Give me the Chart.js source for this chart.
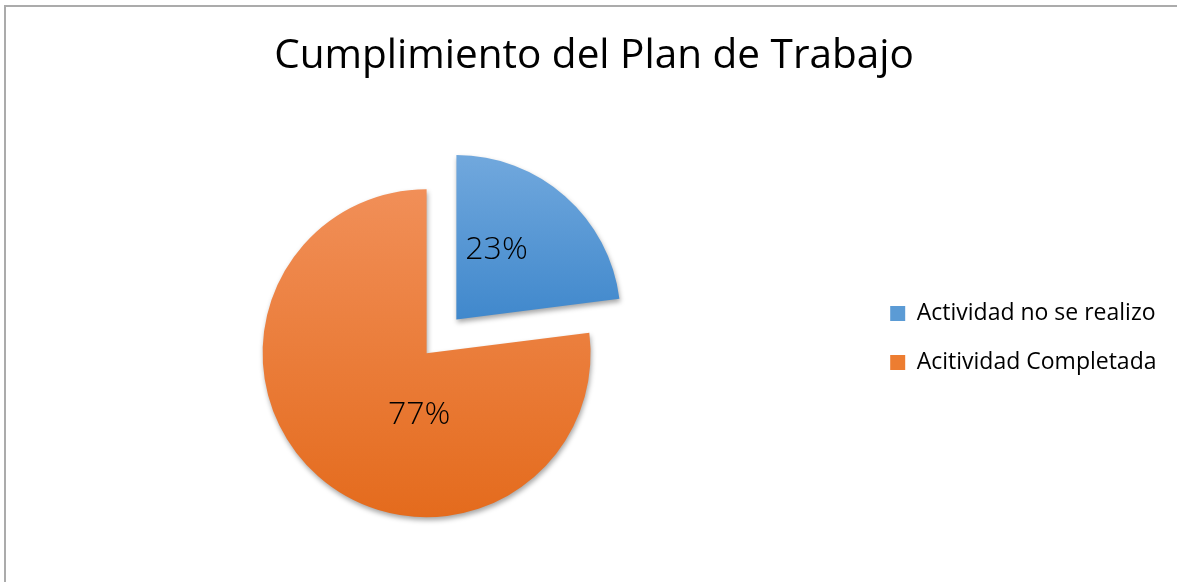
<!DOCTYPE html>
<html lang="es">
<head>
<meta charset="utf-8">
<title>Cumplimiento del Plan de Trabajo</title>
<script src="https://cdn.jsdelivr.net/npm/chart.js@4.4.0/dist/chart.umd.min.js"></script>
<style>
  html, body { margin: 0; padding: 0; background: #fff; overflow: hidden; }
  body { width: 1177px; height: 582px; position: relative; }
  .marco {
    position: absolute; left: 4px; top: 5px; width: 1300px; height: 700px;
    border-left: 2px solid #ababab; border-top: 2px solid #ababab;
  }
  /* el lienzo pasa del borde inferior a propósito: así la leyenda queda más arriba que el centro del pastel */
  .lienzo { position: absolute; left: -11px; top: 0; width: 1210px; height: 635px; }
</style>
</head>
<body>
<div class="marco"></div>
<div class="lienzo"><canvas id="planChart"></canvas></div>
<script>
// ===================== datos del gráfico =====================
const etiquetas = ['Actividad no se realizo', 'Acitividad Completada'];
const valores = [23, 77];
const tituloTexto = 'Cumplimiento del Plan de Trabajo';

// colores degradados (arriba -> abajo) de cada porción
const coloresArriba = ['#71a8dd', '#f18f58'];
const coloresAbajo = ['#4088cc', '#e46b1d'];
const coloresLeyenda = ['#5b9bd5', '#ed7d31'];
// porción separada (solo la azul)
const separacion = [180, 0];

const FUENTE = '"Open Sans", Lato, "DejaVu Sans", sans-serif';

/**
 * Degradado vertical por porción, según su caja (como Excel)
 */
const degradadoPorciones = {
  id: 'degradadoPorciones',
  beforeDatasetsDraw(chart) {
    const ctx = chart.ctx;
    const meta = chart.getDatasetMeta(0);
    meta.data.forEach((arc, i) => {
      const { x, y, startAngle, endAngle, outerRadius } = arc.getProps(['x', 'y', 'startAngle', 'endAngle', 'outerRadius'], true);
      let arriba = y, abajo = y;
      for (let k = 0; k <= 60; k++) {
        const a = startAngle + (endAngle - startAngle) * k / 60;
        const py = y + Math.sin(a) * outerRadius;
        arriba = Math.min(arriba, py);
        abajo = Math.max(abajo, py);
      }
      if (!isFinite(arriba) || !isFinite(abajo)) return;
      const g = ctx.createLinearGradient(0, arriba, 0, abajo);
      g.addColorStop(0, coloresArriba[i]);
      g.addColorStop(1, coloresAbajo[i]);
      arc.options.backgroundColor = g;
    });
  }
};

/**
 * Sombra suave bajo las porciones
 */
const sombraPorciones = {
  id: 'sombraPorciones',
  beforeDatasetsDraw(chart) {
    const ctx = chart.ctx;
    ctx.save();
    ctx.shadowColor = 'rgba(0, 0, 0, 0.35)';
    ctx.shadowBlur = 5;
    ctx.shadowOffsetX = 1;
    ctx.shadowOffsetY = 3;
  },
  afterDatasetsDraw(chart) {
    chart.ctx.restore();
  }
};

/**
 * Etiquetas de porcentaje dentro de cada porción
 */
const etiquetasPorcentaje = {
  id: 'etiquetasPorcentaje',
  afterDatasetsDraw(chart, args, opts) {
    const ctx = chart.ctx;
    const meta = chart.getDatasetMeta(0);
    const total = valores.reduce((s, v) => s + v, 0);
    ctx.save();
    ctx.font = opts.font;
    ctx.fillStyle = opts.color;
    ctx.textAlign = 'center';
    ctx.textBaseline = 'middle';
    meta.data.forEach((arc, i) => {
      const { x, y, startAngle, endAngle, outerRadius, circumference } = arc.getProps(['x', 'y', 'startAngle', 'endAngle', 'outerRadius', 'circumference'], true);
      // mismo desplazamiento que aplica Chart.js a la porción separada
      const off = (arc.options.offset || 0) / 4;
      const fix = 1 - Math.sin(Math.min(Math.PI, circumference || 0));
      const media = (startAngle + endAngle) / 2;
      const d = off + off * fix;
      const cx = x + Math.cos(media) * d;
      const cy = y + Math.sin(media) * d;
      const ang = startAngle + (endAngle - startAngle) * opts.angulo[i];
      const r = outerRadius * opts.radio[i];
      const texto = Math.round(valores[i] / total * 100) + '%';
      ctx.fillText(texto, cx + Math.cos(ang) * r, cy + Math.sin(ang) * r);
    });
    ctx.restore();
  }
};

const canvas = document.getElementById('planChart');
const planChart = new Chart(canvas, {
  type: 'pie',
  data: {
    labels: etiquetas,
    datasets: [{
      data: valores,
      backgroundColor: coloresLeyenda,
      borderWidth: 0,
      offset: separacion,
      hoverOffset: 0
    }]
  },
  options: {
    responsive: true,
    maintainAspectRatio: false,
    animation: false,
    radius: 164,
    layout: { padding: { top: 41, left: 0, right: 0, bottom: 0 } },
    plugins: {
      title: {
        display: true,
        text: tituloTexto,
        color: '#000',
        font: { family: FUENTE, size: 40.5, weight: 'normal', lineHeight: 0.75 },
        padding: 0
      },
      // subtítulo vacío a la derecha: solo reserva espacio para centrar el título como en Excel
      subtitle: {
        display: true,
        text: '',
        position: 'right',
        font: { size: 10, lineHeight: 3.25 },
        padding: 0
      },
      legend: {
        position: 'right',
        align: 'center',
        labels: {
          boxWidth: 15,
          boxHeight: 15,
          padding: 26,
          color: '#000',
          font: { family: FUENTE, size: 23 },
          generateLabels: (chart) => etiquetas.map((t, i) => ({
            text: t,
            fillStyle: coloresLeyenda[i],
            strokeStyle: coloresLeyenda[i],
            lineWidth: 0,
            index: i,
            hidden: false
          }))
        }
      },
      tooltip: { enabled: false },
      etiquetasPorcentaje: {
        font: '300 32px ' + FUENTE,
        color: '#000',
        angulo: [0.36, 0.375],
        radio: [0.49, 0.38]
      }
    }
  },
  plugins: [degradadoPorciones, sombraPorciones, etiquetasPorcentaje]
});
</script>
</body>
</html>
